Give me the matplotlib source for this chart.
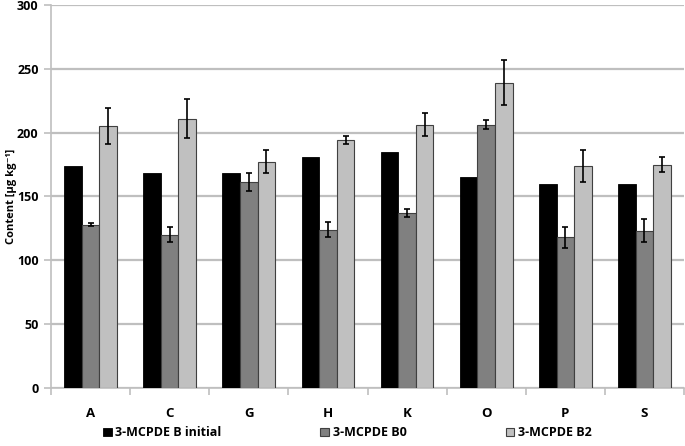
import matplotlib
matplotlib.use('Agg')
import matplotlib.pyplot as plt
import numpy as np

samples = ['A', 'C', 'G', 'H', 'K', 'O', 'P', 'S']
b_initial = [174, 168, 168, 181, 185, 165, 160, 160]
b0 = [128, 120, 161, 124, 137, 206, 118, 123]
b0_err = [1, 6, 7, 6, 3, 3.5, 8, 9]
b2 = [205, 211, 177, 194, 206, 239, 174, 175]
b2_err = [14, 15, 9, 3, 9, 17.5, 12.5, 6]
series_names = ['3-MCPDE B initial', '3-MCPDE B0', '3-MCPDE B2']

plt.rcParams['font.family'] = ['Open Sans', 'DejaVu Sans']
plt.rcParams['font.weight'] = 'bold'

fig = plt.figure(figsize=(6.85, 4.46), dpi=100)
ax = fig.add_axes([0.0745, 0.130, 0.924, 0.859])

x = np.arange(len(samples))
w = 0.222
grid_c = '#BFBFBF'

ax.bar(x - w, b_initial, w, color='black', edgecolor='black', linewidth=0.6,
       label=series_names[0], zorder=3)
ax.bar(x, b0, w, color='#808080', edgecolor='#404040', linewidth=0.8,
       yerr=b0_err, capsize=2.5, error_kw=dict(elinewidth=1.2, capthick=1.2, ecolor='black'),
       label=series_names[1], zorder=3)
ax.bar(x + w, b2, w, color='#C0C0C0', edgecolor='#404040', linewidth=0.8,
       yerr=b2_err, capsize=2.5, error_kw=dict(elinewidth=1.2, capthick=1.2, ecolor='black'),
       label=series_names[2], zorder=3)

ax.set_xlim(-0.5, len(samples) - 0.5)
ax.set_ylim(0, 300)
ax.set_yticks(range(0, 301, 50))
ax.yaxis.grid(True, color=grid_c, linewidth=1.6, zorder=0)
ax.set_axisbelow(True)

ax.set_xticks(x)
ax.set_xticklabels(samples, fontsize=9.5, fontweight='bold')
ax.set_xticks(np.arange(-0.5, len(samples)), minor=True)
ax.tick_params(axis='x', which='major', length=0, pad=14)
ax.tick_params(axis='x', which='minor', length=5, color=grid_c, width=1.2)
ax.tick_params(axis='y', length=5, color=grid_c, width=1.2, labelsize=9, pad=4)
for lbl in ax.get_yticklabels():
    lbl.set_fontweight('bold')

for s in ['top', 'right']:
    ax.spines[s].set_visible(False)
ax.spines['left'].set_color(grid_c)
ax.spines['bottom'].set_color(grid_c)
ax.spines['left'].set_linewidth(1.2)
ax.spines['bottom'].set_linewidth(1.2)

ax.set_ylabel('Content [µg kg⁻¹]', fontsize=8, fontweight='bold')
ax.yaxis.set_label_coords(-0.054, 0.5)

leg = ax.legend(loc='upper left', bbox_to_anchor=(0.082, -0.10),
                ncol=3, frameon=False, fontsize=9, handlelength=0.7, handleheight=0.7,
                handletextpad=0.3, borderaxespad=0, borderpad=0, columnspacing=7.9)
for t in leg.get_texts():
    t.set_fontweight('bold')

fig.savefig('out.png', dpi=100)
